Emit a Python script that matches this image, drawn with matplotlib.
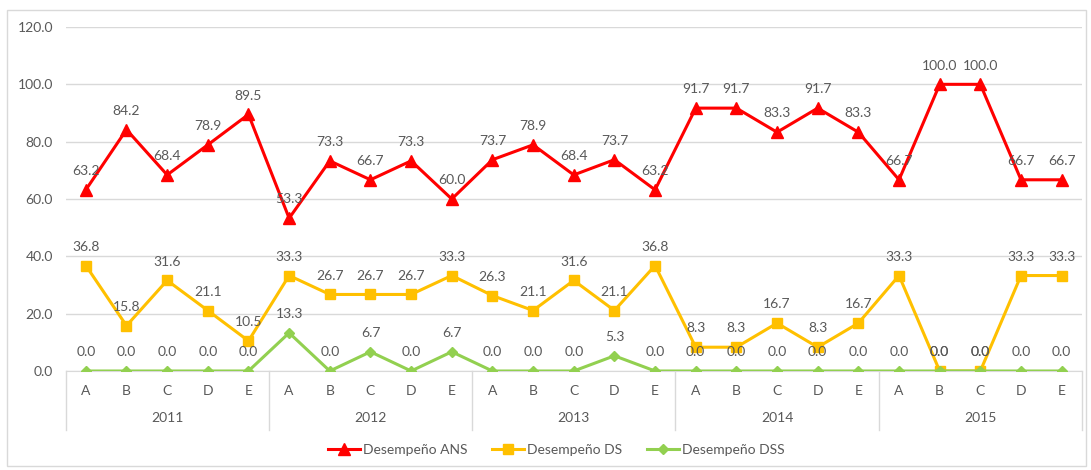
import matplotlib
matplotlib.use("Agg")
import matplotlib.pyplot as plt
from matplotlib.patches import Rectangle
from matplotlib.lines import Line2D

years = ["2011", "2012", "2013", "2014", "2015"]
cats = ["A", "B", "C", "D", "E"]
ans = [63.2, 84.2, 68.4, 78.9, 89.5, 53.3, 73.3, 66.7, 73.3, 60.0,
       73.7, 78.9, 68.4, 73.7, 63.2, 91.7, 91.7, 83.3, 91.7, 83.3,
       66.7, 100.0, 100.0, 66.7, 66.7]
ds = [36.8, 15.8, 31.6, 21.1, 10.5, 33.3, 26.7, 26.7, 26.7, 33.3,
      26.3, 21.1, 31.6, 21.1, 36.8, 8.3, 8.3, 16.7, 8.3, 16.7,
      33.3, 0.0, 0.0, 33.3, 33.3]
dss = [0.0, 0.0, 0.0, 0.0, 0.0, 13.3, 0.0, 6.7, 0.0, 6.7,
       0.0, 0.0, 0.0, 5.3, 0.0, 0.0, 0.0, 0.0, 0.0, 0.0,
       0.0, 0.0, 0.0, 0.0, 0.0]
series_names = ["Desempeño ANS", "Desempeño DS", "Desempeño DSS"]

plt.rcParams['font.family'] = ['Lato', 'DejaVu Sans']
grey = "#595959"
W, H = 1091, 470
fig = plt.figure(figsize=(W / 100, H / 100), dpi=100)
fig.patches.append(Rectangle((7 / W, 1 - 466 / H), (1086 - 7) / W, (466 - 10) / H,
                             transform=fig.transFigure, fill=False,
                             edgecolor="#d9d9d9", linewidth=1))

ax = fig.add_axes([65.5 / W, 1 - 371 / H, (1082 - 65.5) / W, (371 - 27) / H])
n = len(years) * len(cats)
x = list(range(n))
styles = [("#FF0000", "^", 8), ("#FFC000", "s", 7.5), ("#92D050", "D", 5.5)]
for vals, (col, mk, ms), name in zip([ans, ds, dss], styles, series_names):
    ax.plot(x, vals, color=col, marker=mk, markersize=ms, linewidth=2.2,
            label=name, zorder=3)
    for xi, v in zip(x, vals):
        ax.annotate(f"{v:.1f}", (xi, v), xytext=(0, 13.5), textcoords="offset points",
                    ha="center", va="center", fontsize=10, color=grey, zorder=4)

ax.set_xlim(-0.5, n - 0.5)
ax.set_ylim(0, 120)
ax.set_yticks(range(0, 121, 20))
ax.set_yticklabels([f"{v:.1f}" for v in range(0, 121, 20)], fontsize=10, color=grey)
ax.tick_params(axis="y", length=0, pad=9)
ax.yaxis.grid(True, color="#d9d9d9", linewidth=1)
ax.set_axisbelow(True)
for s in ["top", "right", "left"]:
    ax.spines[s].set_visible(False)
ax.spines["bottom"].set_color("#d9d9d9")
ax.set_xticks(x)
ax.set_xticklabels(cats * len(years), fontsize=10, color=grey)
ax.tick_params(axis="x", length=0, pad=10)

# group separators and year labels
trans = ax.get_xaxis_transform()
sep_len = (430 - 371) / (371 - 27)
for k in range(len(years) + 1):
    xs = k * len(cats) - 0.5
    ax.add_line(Line2D([xs, xs], [0, -sep_len], transform=trans, color="#d9d9d9",
                       linewidth=1, clip_on=False))
for k, yname in enumerate(years):
    ax.text(k * len(cats) + 2, -(418 - 371) / (371 - 27), yname, transform=trans,
            ha="center", va="center", fontsize=10, color=grey)

handles = [Line2D([0], [0], color=c, marker=m, markersize=ms, linewidth=2.2)
           for c, m, ms in styles]
fig.legend(handles, series_names, loc="center", bbox_to_anchor=(556 / W, 1 - 450 / H),
           ncol=3, frameon=False, fontsize=10, labelcolor=grey, handlelength=2.3,
           handletextpad=0.2, columnspacing=1.8)

fig.savefig("out.png", dpi=100)
